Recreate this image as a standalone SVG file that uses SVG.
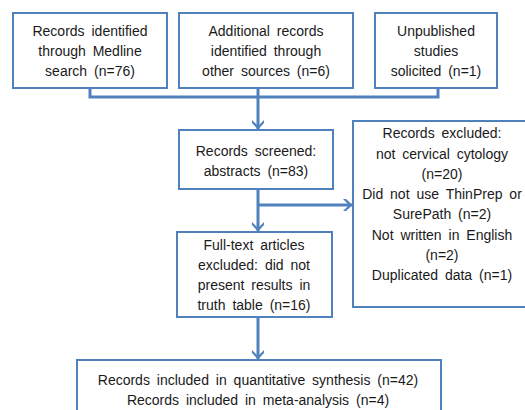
<svg xmlns="http://www.w3.org/2000/svg" width="525" height="410" viewBox="0 0 525 410">
<style>
.box{fill:#fff;stroke:#4F81BD;stroke-width:2}
.t{font-family:"Liberation Sans",Arial,sans-serif;font-size:14px;fill:#1a1a1a;text-anchor:middle;word-spacing:3px}
.c{fill:none;stroke:#4F81BD;stroke-width:3}
</style>
<defs>
<marker id="ah" markerWidth="10" markerHeight="13" refX="9" refY="6.5" orient="auto" markerUnits="userSpaceOnUse" viewBox="0 0 10 13">
<path d="M0,0.5 L3,0.5 L9.5,6.5 L3,12.5 L0,12.5 L6,6.5 Z" fill="#4F81BD"/>
</marker>
</defs>
<rect width="525" height="410" fill="#fff"/>
<g id="connectors">
<polyline class="c" points="90,88 90,97 438,97 438,88"/>
<line class="c" x1="258" y1="88" x2="258" y2="129" marker-end="url(#ah)"/>
<line class="c" x1="258" y1="189" x2="258" y2="231" marker-end="url(#ah)"/>
<line class="c" x1="258" y1="205" x2="352" y2="205" marker-end="url(#ah)"/>
<line class="c" x1="258" y1="317" x2="258" y2="359" marker-end="url(#ah)"/>
</g>
<g id="n1"><rect class="box" x="13" y="13" width="154" height="75"/>
<text class="t" x="90" y="36">Records identified</text>
<text class="t" x="90" y="56">through Medline</text>
<text class="t" x="90" y="76">search (n=76)</text></g>
<g id="n2"><rect class="box" x="179" y="13" width="174" height="75"/>
<text class="t" x="266" y="36">Additional records</text>
<text class="t" x="266" y="56">identified through</text>
<text class="t" x="266" y="76">other sources (n=6)</text></g>
<g id="n3"><rect class="box" x="375" y="13" width="122" height="75"/>
<text class="t" x="436" y="36">Unpublished</text>
<text class="t" x="436" y="56">studies</text>
<text class="t" x="436" y="76">solicited (n=1)</text></g>
<g id="n4"><rect class="box" x="179" y="130" width="154" height="59"/>
<text class="t" x="256" y="156">Records screened:</text>
<text class="t" x="256" y="176">abstracts (n=83)</text></g>
<g id="n5"><rect class="box" x="353" y="121" width="180" height="186"/>
<text class="t" x="442" y="138">Records excluded:</text>
<text class="t" x="442" y="159">not cervical cytology</text>
<text class="t" x="442" y="179">(n=20)</text>
<text class="t" x="442" y="199">Did not use ThinPrep or</text>
<text class="t" x="442" y="219">SurePath (n=2)</text>
<text class="t" x="442" y="240">Not written in English</text>
<text class="t" x="442" y="260">(n=2)</text>
<text class="t" x="442" y="280">Duplicated data (n=1)</text></g>
<g id="n6"><rect class="box" x="177" y="232" width="155" height="85"/>
<text class="t" x="254" y="250">Full-text articles</text>
<text class="t" x="254" y="270">excluded: did not</text>
<text class="t" x="254" y="290">present results in</text>
<text class="t" x="254" y="310">truth table (n=16)</text></g>
<g id="n7"><rect class="box" x="77" y="360" width="364" height="60"/>
<text class="t" x="258" y="385">Records included in quantitative synthesis (n=42)</text>
<text class="t" x="258" y="405">Records included in meta-analysis (n=4)</text></g>
</svg>
